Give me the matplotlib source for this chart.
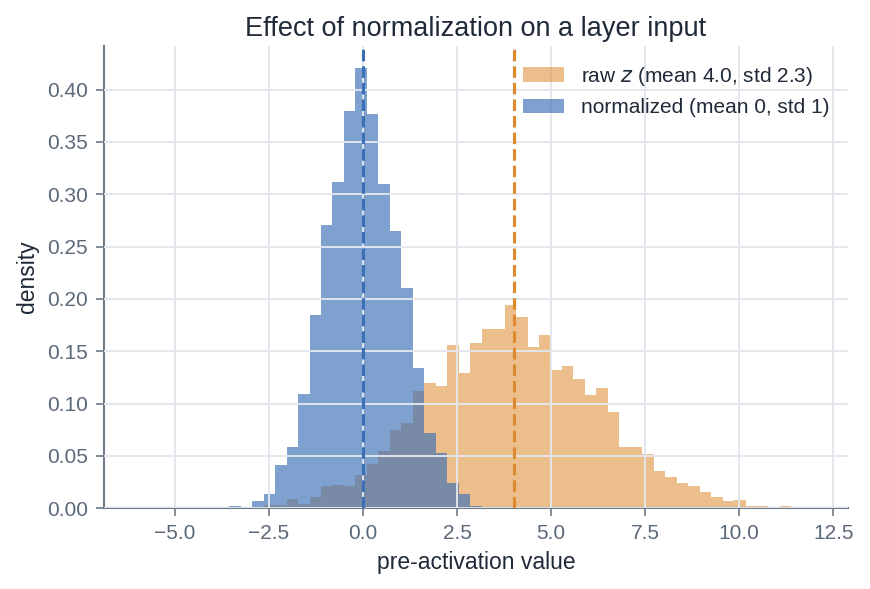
import numpy as np
import matplotlib
matplotlib.use("Agg")
import matplotlib.pyplot as plt


# shared bin edges for both histograms
BIN_LO = -6.0
BIN_HI = 12.0
N_BINS = 59

# density per bin (59 bins from -6 to 12)
raw_density = [
    0, 0, 0, 0, 0, 0, 0, 0, 0, 0,
    0, 0.0032, 0.0032, 0.0089, 0.0041, 0.0108, 0.0214, 0.0223, 0.0214, 0.032,
    0.0425, 0.055, 0.075, 0.0818, 0.1125, 0.120, 0.117, 0.1556, 0.1288, 0.1575,
    0.171, 0.171, 0.194, 0.1826, 0.154, 0.1655, 0.1326, 0.1355, 0.1232, 0.1078,
    0.1154, 0.0924, 0.0588, 0.0588, 0.0520, 0.0357, 0.030, 0.0243, 0.0214, 0.0157,
    0.0108, 0.007, 0.008, 0.0022, 0.0022, 0, 0.0022, 0, 0,
]
norm_density = [
    0, 0, 0, 0, 0, 0, 0, 0, 0.0022, 0,
    0.0066, 0.0137, 0.0415, 0.0588, 0.1096, 0.1845, 0.2707, 0.3116, 0.380, 0.4207,
    0.3771, 0.310, 0.265, 0.2106, 0.1336, 0.072, 0.053, 0.0246, 0.0137, 0.0022,
    0.0016, 0, 0, 0, 0, 0, 0, 0, 0, 0,
    0, 0, 0, 0, 0, 0, 0, 0, 0, 0,
    0, 0, 0, 0, 0, 0, 0, 0, 0,
]

raw_mean = 4.0
raw_std = 2.3
norm_mean = 0.0
norm_std = 1

ORANGE = "#dd8a2e"
BLUE = "#3b6fb6"
SPINE = "#6e7a88"
TICK_TXT = "#5b6878"
DARK = "#1f2937"
GRID = "#e3e7ed"

plt.rcParams["font.family"] = ["Liberation Sans", "DejaVu Sans"]


def main():
    edges = np.linspace(BIN_LO, BIN_HI, N_BINS + 1)
    centers = (edges[:-1] + edges[1:]) / 2

    fig, ax = plt.subplots(figsize=(5.8, 589 / 150), dpi=150)
    fig.subplots_adjust(left=0.119, right=0.975, top=0.922, bottom=0.137)

    ax.hist(centers, bins=edges, weights=raw_density, color=ORANGE, alpha=0.55,
            label=f"raw $z$ (mean {raw_mean:.1f}, std {raw_std:.1f})")
    ax.hist(centers, bins=edges, weights=norm_density, color=BLUE, alpha=0.65,
            label=f"normalized (mean {norm_mean:.0f}, std {norm_std})")

    ax.axvline(raw_mean, color=ORANGE, ls="--", lw=1.5, zorder=3)
    ax.axvline(norm_mean, color=BLUE, ls="--", lw=1.5, zorder=3)

    ax.set_axisbelow(False)
    ax.grid(True, color=GRID, lw=0.9)

    for side in ["top", "right"]:
        ax.spines[side].set_visible(False)
    for side in ["left", "bottom"]:
        ax.spines[side].set_color(SPINE)
        ax.spines[side].set_linewidth(1.0)
    ax.tick_params(colors=SPINE, labelcolor=TICK_TXT, labelsize=10, length=4)

    ax.set_xlabel("pre-activation value", fontsize=11, color=DARK)
    ax.set_ylabel("density", fontsize=11, color=DARK)
    ax.set_title("Effect of normalization on a layer input", fontsize=13,
                 color=DARK, pad=5)

    leg = ax.legend(loc="upper right", frameon=False, fontsize=10)
    for t in leg.get_texts():
        t.set_color(DARK)

    fig.savefig("out.png", dpi=150)
    plt.close(fig)


if __name__ == "__main__":
    main()
